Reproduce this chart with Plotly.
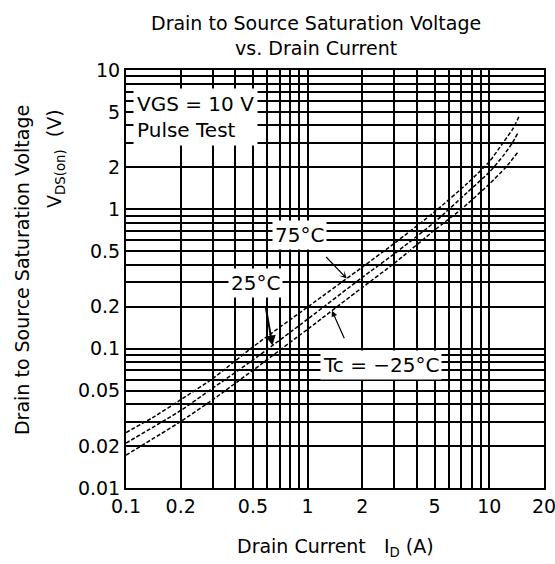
import numpy as np
import plotly.graph_objects as go

# ---- data ----
current_75 = [0.1, 0.14, 0.2, 0.3, 0.5, 1.0, 2.0, 3.0, 5.0, 7.5, 10.0, 12.0, 13.5, 14.7]
vds_75 = [0.025, 0.032, 0.043, 0.061, 0.103, 0.199, 0.385, 0.57, 0.96, 1.52, 2.2, 3.05, 3.8, 4.75]

current_25 = [0.1, 0.2, 0.3, 0.5, 1.0, 2.0, 3.0, 5.0, 7.5, 10.0, 12.0, 13.4, 14.3]
vds_25 = [0.021, 0.036, 0.052, 0.083, 0.163, 0.325, 0.48, 0.81, 1.31, 1.85, 2.45, 3.0, 3.5]

current_m25 = [0.1, 0.2, 0.3, 0.5, 1.0, 2.0, 3.0, 5.0, 7.0, 10.0, 12.3, 14.3]
vds_m25 = [0.0172, 0.030, 0.043, 0.070, 0.138, 0.275, 0.41, 0.71, 1.0, 1.52, 2.0, 2.55]

x_grid_values = [0.1, 0.2, 0.3, 0.4, 0.5, 0.6, 0.7, 0.8, 0.9, 1, 2, 3, 4, 5, 6, 7, 8, 9, 10, 20]
x_labeled = {0.1: "0.1", 0.2: "0.2", 0.5: "0.5", 1: "1", 2: "2", 5: "5", 10: "10", 20: "20"}
y_grid_values = [0.01, 0.02, 0.03, 0.04, 0.05, 0.06, 0.07, 0.08, 0.09,
                 0.1, 0.2, 0.3, 0.4, 0.5, 0.6, 0.7, 0.8, 0.9,
                 1, 2, 3, 4, 5, 6, 7, 8, 9, 10]
y_labeled = {0.01: "0.01", 0.02: "0.02", 0.05: "0.05", 0.1: "0.1", 0.2: "0.2",
             0.5: "0.5", 1: "1", 2: "2", 5: "5", 10: "10"}

# arrow targets (current at which each label arrow touches its curve)
arrow_current = {"75": 1.64, "25": 0.64, "m25": 1.36}

FONT = "DejaVu Sans"

def on_curve(xs, ys, xq):
    return float(np.interp(np.log10(xq), np.log10(xs), np.log10(ys)))

fig = go.Figure()
for xs, ys in [(current_75, vds_75), (current_25, vds_25), (current_m25, vds_m25)]:
    fig.add_trace(go.Scatter(
        x=xs, y=ys, mode="lines",
        line=dict(color="black", width=1.5, dash="4px,2px", shape="spline", smoothing=0.6),
        showlegend=False, hoverinfo="skip"))

axis_common = dict(
    type="log", showgrid=True, gridcolor="black", gridwidth=2,
    showline=True, linecolor="black", linewidth=2, mirror=True,
    ticks="", zeroline=False, automargin=False, ticklabeloverflow="allow",
    tickfont=dict(family=FONT, size=19, color="black"),
)

fig.update_layout(
    width=555, height=564,
    margin=dict(l=126, r=11, t=70, b=76),
    paper_bgcolor="white", plot_bgcolor="white",
    xaxis=dict(**axis_common, range=[-1, np.log10(20) + 1e-9],
               tickvals=x_grid_values,
               ticktext=[x_labeled.get(v, "") for v in x_grid_values]),
    yaxis=dict(**axis_common, range=[-2, 1],
               tickvals=y_grid_values,
               ticktext=[y_labeled.get(v, "") for v in y_grid_values]),
    font=dict(family=FONT, color="black"),
)

ann = []
# title
ann.append(dict(text="Drain to Source Saturation Voltage<br>vs. Drain Current",
                xref="paper", yref="paper", x=0.4545, y=1.1435,
                xanchor="center", yanchor="top", showarrow=False,
                font=dict(family=FONT, size=19, color="black")))
# axis titles
ann.append(dict(text="Drain Current\u00a0\u00a0\u00a0I<sub>D</sub>\u00a0(A)",
                xref="paper", yref="paper", x=0.5, y=-0.1435,
                xanchor="center", yanchor="middle", showarrow=False,
                font=dict(family=FONT, size=19, color="black")))
ann.append(dict(text="Drain to Source Saturation Voltage",
                xref="paper", yref="paper", x=-0.2488, y=0.5215,
                xanchor="center", yanchor="middle", showarrow=False, textangle=-90,
                font=dict(family=FONT, size=19, color="black")))
ann.append(dict(text="V<sub>DS(on)</sub>\u00a0\u00a0(V)",
                xref="paper", yref="paper", x=-0.1675, y=0.7895,
                xanchor="center", yanchor="middle", showarrow=False, textangle=-90,
                font=dict(family=FONT, size=19, color="black")))
# condition box
ann.append(dict(text="VGS = 10 V<br>Pulse Test", align="left",
                xref="x domain", yref="y domain", x=0.017, y=0.957,
                xanchor="left", yanchor="top", showarrow=False,
                bgcolor="white", borderpad=3,
                font=dict(family=FONT, size=20, color="black")))
# curve labels
for txt, xd, yd in [("75°C", 0.416, 0.605), ("25°C", 0.311, 0.490), ("Tc = \u221225°C", 0.610, 0.294)]:
    ann.append(dict(text=txt, xref="x domain", yref="y domain", x=xd, y=yd,
                    xanchor="center", yanchor="middle", showarrow=False,
                    bgcolor="white", borderpad=2,
                    font=dict(family=FONT, size=20, color="black")))
# arrows
for key, xs, ys, ax, ay, head, aw in [
        ("75", current_75, vds_75, -22, -23, 3, 1.2),
        ("25", current_25, vds_25, -7, -40, 2, 2.0),
        ("m25", current_m25, vds_m25, 13, 29, 2, 1.2)]:
    xq = arrow_current[key]
    ann.append(dict(text="", x=np.log10(xq), y=on_curve(xs, ys, xq), xref="x", yref="y",
                    showarrow=True, ax=ax, ay=ay, arrowhead=head, arrowsize=1,
                    arrowwidth=aw, arrowcolor="black"))

fig.update_layout(annotations=ann)
fig.write_html(
    "out.html",
    config={"displayModeBar": False},
    post_script="document.documentElement.style.overflow='hidden';"
                "document.body.style.margin='0';document.body.style.overflow='hidden';",
)
